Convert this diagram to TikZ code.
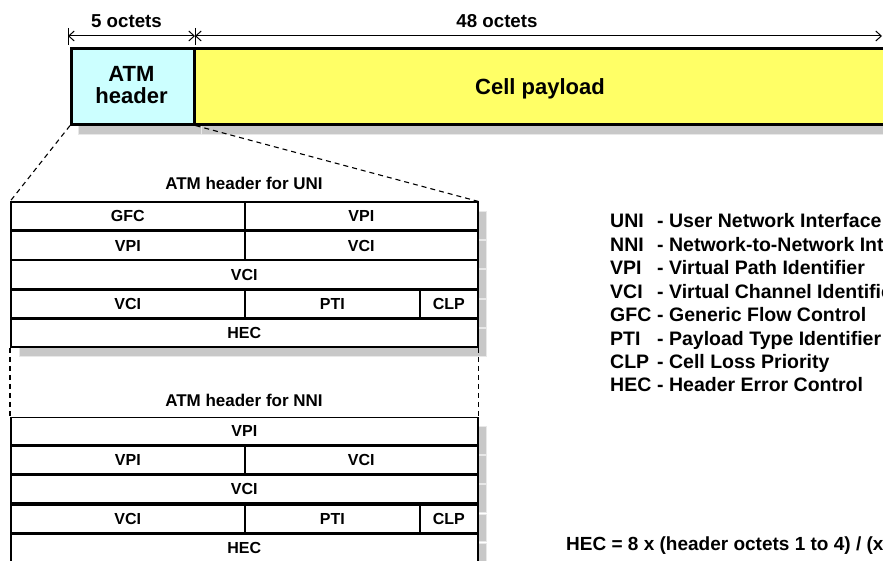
\documentclass[tikz,border=0pt]{standalone}
\usepackage{fontspec}
\setmainfont{Liberation Sans}
\usetikzlibrary{arrows.meta}
\definecolor{hdrcyan}{HTML}{CCFFFF}
\definecolor{payyellow}{HTML}{FFFF66}
\definecolor{shadowgray}{HTML}{C8C8C8}
\definecolor{shadowedge}{HTML}{E8E8E8}
\tikzset{
  fs/.style={font=\fontsize{#1}{#1}\selectfont\bfseries},
  cellbox/.style={draw=black, line width=1.6pt, fill=white, inner sep=0pt, rectangle, anchor=north west, fs=16},
  shadowbox/.style={fill=shadowgray, draw=shadowedge, line width=0.8pt},
  bigbox/.style={draw=black, line width=2.6pt, inner sep=0pt, rectangle, anchor=north west},
  dimline/.style={line width=1pt, {Straight Barb[length=5.5pt,width=10pt]}-{Straight Barb[length=5.5pt,width=10pt]}},
  tick/.style={line width=1pt},
  zoomline/.style={dash pattern=on 5pt off 4pt, line width=1.1pt},
  lgabbr/.style={anchor=base west, inner sep=0pt, fs=19.5},
  lgtext/.style={anchor=base west, inner sep=0pt, fs=19.5},
}
\begin{document}
\begin{tikzpicture}[x=1pt,y=-1pt]
\useasboundingbox (0,0) rectangle (883,561);
\clip (0,0) rectangle (883,561);

% ---------- top cell ----------
\fill[shadowgray] (78,58) rectangle (910,134);
\draw[shadowedge, line width=0.8pt] (78,58) rectangle (201,134) (201,58) rectangle (910,134);
\node[bigbox, fill=hdrcyan, minimum width=123pt, minimum height=76pt] (hdr) at (70,47) {};
\node[bigbox, fill=payyellow, minimum width=700pt, minimum height=76pt] (pay) at (193,47) {};
\node[fs=22, align=center, inner sep=0pt] (hdrtxt) at (131.5,85) {\fontsize{22}{27}\selectfont\bfseries ATM\\header};
\node[fs=22, anchor=base, inner sep=0pt] (paytxt) at (540,95) {Cell payload};

% ---------- dimensions ----------
\coordinate (t0a) at (68,28); \coordinate (t0b) at (68,45);
\coordinate (t1a) at (195,28); \coordinate (t1b) at (195,45);
\coordinate (d0) at (68,36); \coordinate (d1) at (195,36); \coordinate (d2) at (882,36);
\draw[tick] (t0a) -- (t0b);
\draw[tick] (t1a) -- (t1b);
\draw[dimline] (d0) -- (d1);
\draw[dimline] (d1) -- (d2);
\node[fs=18.7, anchor=base, inner sep=0pt] (five) at (126.5,27.7) {5 octets};
\node[fs=18.7, anchor=base, inner sep=0pt] (fortyeight) at (497,27.7) {48 octets};

% ---------- UNI header ----------
\node[fs=17, anchor=base, inner sep=0pt] (unititle) at (244,190) {ATM header for UNI};
\foreach \yy in {201.5,230.7,259.9,289.1,318.3}
  \draw[shadowbox] (19,\yy+10) rectangle (486,\yy+38);
\node[cellbox, minimum width=234pt, minimum height=28pt] (u1a) at (10,201.5) {GFC};
\node[cellbox, minimum width=233pt, minimum height=28pt] (u1b) at (244,201.5) {VPI};
\node[cellbox, minimum width=234pt, minimum height=28pt] (u2a) at (10,230.7) {VPI};
\node[cellbox, minimum width=233pt, minimum height=28pt] (u2b) at (244,230.7) {VCI};
\node[cellbox, minimum width=467pt, minimum height=28pt] (u3) at (10,259.9) {VCI};
\node[cellbox, minimum width=234pt, minimum height=28pt] (u4a) at (10,289.1) {VCI};
\node[cellbox, minimum width=175pt, minimum height=28pt] (u4b) at (244,289.1) {PTI};
\node[cellbox, minimum width=58pt, minimum height=28pt] (u4c) at (419,289.1) {CLP};
\node[cellbox, minimum width=467pt, minimum height=28pt] (u5) at (10,318.3) {HEC};

% ---------- NNI header ----------
\node[fs=17, anchor=base, inner sep=0pt] (nnititle) at (244,406) {ATM header for NNI};
\foreach \yy in {416.5,445.65,474.8,503.95,533.1}
  \draw[shadowbox] (19,\yy+10) rectangle (486,\yy+37.6);
\node[cellbox, minimum width=467pt, minimum height=27.6pt] (n1) at (10,416.5) {VPI};
\node[cellbox, minimum width=234pt, minimum height=27.6pt] (n2a) at (10,445.65) {VPI};
\node[cellbox, minimum width=233pt, minimum height=27.6pt] (n2b) at (244,445.65) {VCI};
\node[cellbox, minimum width=467pt, minimum height=27.6pt] (n3) at (10,474.8) {VCI};
\node[cellbox, minimum width=234pt, minimum height=27.6pt] (n4a) at (10,503.95) {VCI};
\node[cellbox, minimum width=175pt, minimum height=27.6pt] (n4b) at (244,503.95) {PTI};
\node[cellbox, minimum width=58pt, minimum height=27.6pt] (n4c) at (419,503.95) {CLP};
\node[cellbox, minimum width=467pt, minimum height=27.6pt] (n5) at (10,533.1) {HEC};

% ---------- zoom lines ----------
\draw[zoomline] (hdr.south west) -- (u1a.north west);
\draw[zoomline] (hdr.south east) -- (u1b.north east);
\draw[zoomline] (u5.south west) -- (n1.north west);
\draw[zoomline] (u5.south east) -- (n1.north east);

% ---------- legend ----------
\node[lgabbr] (la1) at (610,228) {UNI};   \node[lgtext] (lb1) at (657,228) {- User Network Interface};
\node[lgabbr] (la2) at (610,251.4) {NNI}; \node[lgtext] (lb2) at (657,251.4) {- Network-to-Network Interface};
\node[lgabbr] (la3) at (610,274.8) {VPI}; \node[lgtext] (lb3) at (657,274.8) {- Virtual Path Identifier};
\node[lgabbr] (la4) at (610,298.2) {VCI}; \node[lgtext] (lb4) at (657,298.2) {- Virtual Channel Identifier};
\node[lgabbr] (la5) at (610,321.6) {GFC}; \node[lgtext] (lb5) at (657,321.6) {- Generic Flow Control};
\node[lgabbr] (la6) at (610,345) {PTI};   \node[lgtext] (lb6) at (657,345) {- Payload Type Identifier};
\node[lgabbr] (la7) at (610,368.4) {CLP}; \node[lgtext] (lb7) at (657,368.4) {- Cell Loss Priority};
\node[lgabbr] (la8) at (610,391.8) {HEC}; \node[lgtext] (lb8) at (657,391.8) {- Header Error Control};

\node[fs=19, anchor=base west, inner sep=0pt] (formula) at (566,550) {HEC = 8 x (header octets 1 to 4) / (x\textsuperscript{8} + x\textsuperscript{2} + x + 1)};
\end{tikzpicture}
\end{document}
